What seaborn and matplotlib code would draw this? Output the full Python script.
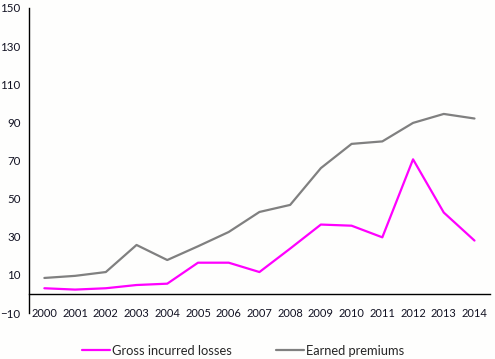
import pandas as pd
import matplotlib.pyplot as plt
import seaborn as sns
from matplotlib.lines import Line2D

years = [str(y) for y in range(2000, 2015)]
gross_losses = [3.0, 2.3, 3.0, 4.7, 5.4, 16.4, 16.4, 11.5, 23.8, 36.4, 35.8, 29.7, 70.6, 42.7, 28.0]
earned_premiums = [8.4, 9.5, 11.5, 25.7, 17.8, 25.0, 32.5, 43.0, 46.7, 66.0, 78.7, 80.0, 89.7, 94.4, 92.0]
series_names = ["Gross incurred losses", "Earned premiums"]
colors = ["#ff00ff", "#808080"]


def main():
    sns.set_style("white")
    plt.rcParams['font.family'] = ['Lato', 'DejaVu Sans']

    df = pd.DataFrame({
        "year": years * 2,
        "pos": list(range(len(years))) * 2,
        "value": gross_losses + earned_premiums,
        "series": [series_names[0]] * len(years) + [series_names[1]] * len(years),
    })

    fig = plt.figure(figsize=(4.95, 3.59), dpi=100, facecolor="#fefefd")
    ax = fig.add_axes([0.0586, 0.128, 0.931, 0.850])
    ax.set_facecolor("#fefefd")

    sns.lineplot(data=df, x="pos", y="value", hue="series", palette=colors,
                 hue_order=series_names, linewidth=1.6, ax=ax, legend=False)

    ax.set_xlim(-0.5, len(years) - 0.5)
    ax.set_ylim(-10, 150)
    ax.set_yticks(range(-10, 151, 20))
    ax.set_xticks(range(len(years)))
    ax.set_xticklabels(years)
    ax.set_xticks([i - 0.5 for i in range(len(years) + 1)], minor=True)
    ax.set_xlabel("")
    ax.set_ylabel("")

    for s in ["top", "right"]:
        ax.spines[s].set_visible(False)
    ax.spines["bottom"].set_position(("data", 0))
    ax.spines["left"].set_color("black")
    ax.spines["bottom"].set_color("black")
    ax.spines["left"].set_linewidth(1.0)
    ax.spines["bottom"].set_linewidth(1.0)

    ax.tick_params(axis="x", which="major", length=0, pad=10, labelsize=8, colors="#111122")
    ax.tick_params(axis="x", which="minor", length=4, width=1, color="black", direction="out")
    ax.tick_params(axis="y", length=4, width=1, color="black", direction="out", pad=2,
                   labelsize=8.3, labelcolor="#111122")

    handles = [Line2D([], [], color=c, linewidth=1.6) for c in colors]
    ax.legend(handles, series_names, loc="upper center", bbox_to_anchor=(0.465, -0.065),
              ncol=2, frameon=False, fontsize=9.3, handlelength=2.2, handletextpad=0.15,
              columnspacing=3.4)

    fig.savefig("out.png", dpi=100, facecolor=fig.get_facecolor())


if __name__ == "__main__":
    main()
